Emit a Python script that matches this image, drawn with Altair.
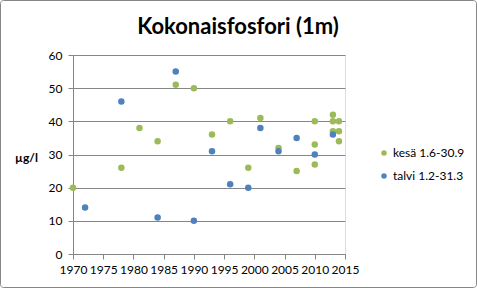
import altair as alt
import pandas as pd

# kesä (summer) samples
kesa_year = [1970, 1978, 1981, 1984, 1987, 1990, 1993, 1996, 1999, 2001, 2004, 2007,
             2010, 2010, 2010, 2013, 2013, 2013, 2014, 2014, 2014]
kesa_val = [20, 26, 38, 34, 51, 50, 36, 40, 26, 41, 32, 25,
            40, 33, 27, 42, 40, 37, 40, 37, 34]

# talvi (winter) samples
talvi_year = [1972, 1978, 1984, 1987, 1990, 1993, 1996, 1999, 2001, 2004, 2007, 2010, 2013]
talvi_val = [14, 46, 11, 55, 10, 31, 21, 20, 38, 31, 35, 30, 36]

series_names = ["kesä 1.6-30.9", "talvi 1.2-31.3"]
series_colors = ["#9BBB59", "#4F81BD"]
chart_title = "Kokonaisfosfori (1m)"

df = pd.concat([
    pd.DataFrame({"vuosi": kesa_year, "arvo": kesa_val, "sarja": series_names[0], "o": 0}),
    pd.DataFrame({"vuosi": talvi_year, "arvo": talvi_val, "sarja": series_names[1], "o": 1}),
])

W, H = 272, 199
PL, PT = 73, 55
FONT = "Lato"

points = alt.Chart(df).mark_circle(size=42, opacity=1).encode(
    x=alt.X("vuosi:Q",
            scale=alt.Scale(domain=[1970, 2015], nice=False, zero=False),
            axis=alt.Axis(values=list(range(1970, 2016, 5)), format="d", title=None,
                          grid=False, labelOverlap=False, labelFlush=False,
                          tickSize=5, labelPadding=5, domainColor="#868686",
                          tickColor="#868686", labelColor="#000000",
                          labelFont=FONT, labelFontSize=12)),
    y=alt.Y("arvo:Q",
            scale=alt.Scale(domain=[0, 60], nice=False),
            axis=alt.Axis(values=list(range(0, 61, 10)), title="µg/l",
                          titleAngle=0, titleX=-47, titleY=102, titleAlign="center",
                          titleBaseline="middle", titleFont=FONT, titleFontSize=12,
                          titleFontWeight="bold", titleColor="#000000",
                          grid=True, gridColor="#868686", gridWidth=1,
                          tickSize=5, labelPadding=6, domainColor="#868686",
                          tickColor="#868686", labelColor="#000000",
                          labelFont=FONT, labelFontSize=12)),
    color=alt.Color("sarja:N",
                    scale=alt.Scale(domain=series_names, range=series_colors),
                    legend=alt.Legend(title=None, orient="none", legendX=305, legendY=92,
                                      padding=0, symbolSize=30, symbolType="circle",
                                      rowPadding=11, labelFont=FONT, labelFontSize=12,
                                      labelColor="#000000", labelOffset=3)),
    order=alt.Order("o:Q"),
)

border = alt.Chart(pd.DataFrame({"a": [0]})).mark_rect(
    fill=None, stroke="#868686", strokeWidth=1, cornerRadius=3
).encode(
    x=alt.value(-PL + 0.5), x2=alt.value(477 - PL - 0.5),
    y=alt.value(-PT + 0.5), y2=alt.value(288 - PT - 0.5),
)

title = alt.Chart(pd.DataFrame({"t": [chart_title]})).mark_text(
    font=FONT, fontSize=22, fontWeight="bold", color="#000000",
    align="center", baseline="alphabetic"
).encode(
    text="t:N", x=alt.value(238 - PL), y=alt.value(34 - PT),
)

chart = alt.layer(border, points, title).properties(
    width=W, height=H,
    autosize=alt.AutoSizeParams(type="none"),
    padding={"left": PL, "top": PT, "right": 477 - PL - W, "bottom": 288 - PT - H},
).configure_view(stroke=None).configure(background="#ffffff")

chart.save("out.html", embed_options={"renderer": "svg", "actions": False})
